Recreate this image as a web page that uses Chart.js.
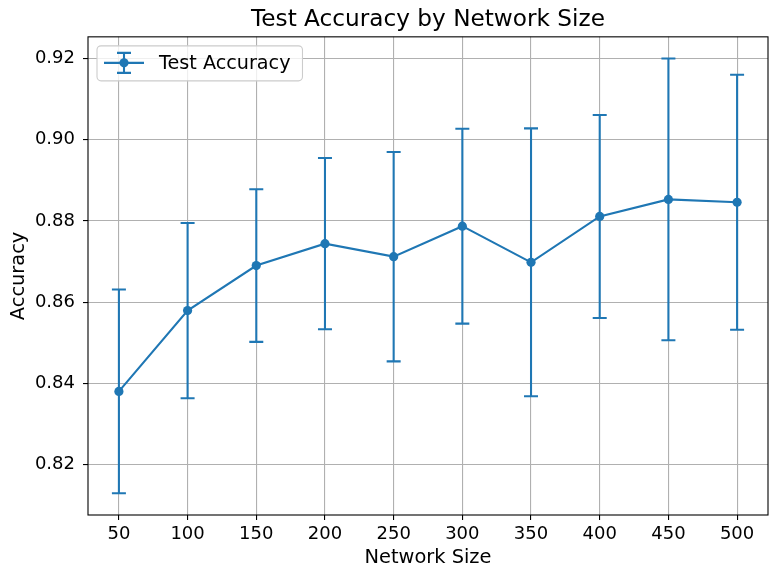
<!DOCTYPE html>
<html>
<head>
<meta charset="utf-8">
<title>Test Accuracy by Network Size</title>
<script src="https://cdn.jsdelivr.net/npm/chart.js@4.4.1/dist/chart.umd.min.js"></script>
<style>
  html, body { margin: 0; padding: 0; background: #fff; }
  #accChart { display: block; }
</style>
</head>
<body>
<canvas id="accChart" width="777" height="578"></canvas>
<script>
// Данные графика
const networkSizes = [50, 100, 150, 200, 250, 300, 350, 400, 450, 500];
const accuracyMean = [0.8380, 0.8579, 0.8690, 0.8744, 0.8712, 0.8787, 0.8698, 0.8811, 0.8853, 0.8846];
const accuracyErr  = [0.0251, 0.0216, 0.0188, 0.0211, 0.0258, 0.0240, 0.0330, 0.0250, 0.0347, 0.0314];

// Подписи делений
const xTicks = [50, 100, 150, 200, 250, 300, 350, 400, 450, 500];
const yTicks = [0.82, 0.84, 0.86, 0.88, 0.90, 0.92];

const seriesLabel = "Test Accuracy";
const lineColor = "#1f77b4";
const fontFamily = "'DejaVu Sans', sans-serif";

// Границы осей как в matplotlib (поля 5% от размаха данных)
const lows = accuracyMean.map((m, i) => m - accuracyErr[i]);
const highs = accuracyMean.map((m, i) => m + accuracyErr[i]);
const yLo = Math.min(...lows), yHi = Math.max(...highs);
const xLo = Math.min(...networkSizes), xHi = Math.max(...networkSizes);
const yPad = (yHi - yLo) * 0.05, xPad = (xHi - xLo) * 0.05;

// Усы погрешностей рисуем под линией и маркерами
const errorBarPlugin = {
  id: "errorBars",
  beforeDatasetsDraw(chart) {
    const { ctx, scales: { x, y } } = chart;
    ctx.save();
    ctx.strokeStyle = lineColor;
    ctx.lineWidth = 2.08;
    networkSizes.forEach((n, i) => {
      const px = x.getPixelForValue(n);
      const top = y.getPixelForValue(highs[i]);
      const bot = y.getPixelForValue(lows[i]);
      ctx.beginPath();
      ctx.moveTo(px, top);
      ctx.lineTo(px, bot);
      ctx.moveTo(px - 7, top);
      ctx.lineTo(px + 7, top);
      ctx.moveTo(px - 7, bot);
      ctx.lineTo(px + 7, bot);
      ctx.stroke();
    });
    ctx.restore();
  }
};

// Рамка вокруг области графика и легенда внутри неё
const framePlugin = {
  id: "frameAndLegend",
  afterDatasetsDraw(chart) {
    const { ctx, chartArea: a } = chart;
    ctx.save();
    ctx.strokeStyle = "#000";
    ctx.lineWidth = 1.1;
    ctx.strokeRect(a.left, a.top, a.right - a.left, a.bottom - a.top);
    ctx.restore();
  },
  afterDraw(chart) {
    const { ctx, chartArea: a } = chart;
    const label = chart.data.datasets[0].label;
    const left = a.left + 9, top = a.top + 9, h = 35;
    ctx.save();
    ctx.font = "19.2px " + fontFamily;
    const textX = left + 62;
    const w = textX - left + ctx.measureText(label).width + 12;

    ctx.beginPath();
    ctx.roundRect(left, top, w, h, 4);
    ctx.fillStyle = "rgba(255,255,255,0.8)";
    ctx.fill();
    ctx.strokeStyle = "#cccccc";
    ctx.lineWidth = 1.1;
    ctx.stroke();

    // значок: линия, ус и маркер
    const cy = top + 17, cx = left + 27;
    ctx.strokeStyle = lineColor;
    ctx.lineWidth = 2.08;
    ctx.beginPath();
    ctx.moveTo(left + 7, cy);
    ctx.lineTo(left + 47, cy);
    ctx.moveTo(cx, cy - 10);
    ctx.lineTo(cx, cy + 10);
    ctx.moveTo(cx - 7, cy - 10);
    ctx.lineTo(cx + 7, cy - 10);
    ctx.moveTo(cx - 7, cy + 10);
    ctx.lineTo(cx + 7, cy + 10);
    ctx.stroke();
    ctx.beginPath();
    ctx.arc(cx, cy, 4.6, 0, Math.PI * 2);
    ctx.fillStyle = lineColor;
    ctx.fill();

    ctx.fillStyle = "#000";
    ctx.textBaseline = "middle";
    ctx.fillText(label, textX, cy + 1);
    ctx.restore();
  }
};

const ctx = document.getElementById("accChart").getContext("2d");
new Chart(ctx, {
  type: "line",
  data: {
    datasets: [{
      label: seriesLabel,
      data: networkSizes.map((n, i) => ({ x: n, y: accuracyMean[i] })),
      borderColor: lineColor,
      backgroundColor: lineColor,
      borderWidth: 2.08,
      pointRadius: 4.6,
      pointBorderWidth: 0,
      pointHoverRadius: 4.6,
      tension: 0,
      fill: false
    }]
  },
  options: {
    responsive: false,
    animation: false,
    events: [],
    layout: { padding: { left: 0, right: 9, top: 0, bottom: 0 } },
    plugins: {
      legend: { display: false },
      tooltip: { enabled: false },
      title: {
        display: true,
        text: "Test Accuracy by Network Size",
        color: "#000",
        fullSize: false,
        font: { family: fontFamily, size: 23.2, weight: "normal" },
        padding: { top: 6.5, bottom: 2.5 }
      }
    },
    scales: {
      x: {
        type: "linear",
        position: "bottom",
        min: xLo - xPad,
        max: xHi + xPad,
        afterBuildTicks: s => { s.ticks = xTicks.map(v => ({ value: v })); },
        afterFit: s => { s.height = 63; },
        border: { display: false },
        grid: { color: "#b0b0b0", lineWidth: 1.1, tickColor: "#000", tickLength: 5, tickWidth: 1.1 },
        ticks: {
          color: "#000",
          font: { family: fontFamily, size: 18 },
          padding: 4,
          maxRotation: 0,
          autoSkip: false,
          callback: v => String(v)
        },
        title: {
          display: true,
          text: "Network Size",
          color: "#000",
          font: { family: fontFamily, size: 19.4 },
          padding: { top: 0, bottom: 8.5 }
        }
      },
      y: {
        type: "linear",
        min: yLo - yPad,
        max: yHi + yPad,
        afterBuildTicks: s => { s.ticks = yTicks.map(v => ({ value: v })); },
        afterFit: s => { s.width = 88; },
        border: { display: false },
        grid: { color: "#b0b0b0", lineWidth: 1.1, tickColor: "#000", tickLength: 5, tickWidth: 1.1 },
        ticks: {
          color: "#000",
          font: { family: fontFamily, size: 18 },
          padding: 8,
          callback: v => v.toFixed(2)
        },
        title: {
          display: true,
          text: "Accuracy",
          color: "#000",
          font: { family: fontFamily, size: 19.4 },
          padding: { top: 7.4, bottom: 0 }
        }
      }
    }
  },
  plugins: [errorBarPlugin, framePlugin]
});
</script>
</body>
</html>
